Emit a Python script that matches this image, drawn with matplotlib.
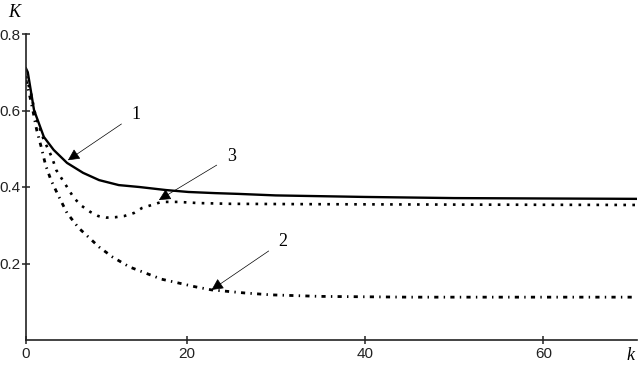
import matplotlib
matplotlib.use("Agg")
import matplotlib.pyplot as plt

# curve 1 (solid)
k1 = [2, 2.2, 2.9, 4.0, 5.1, 6.6, 8.4, 10.2, 12.4, 14.7, 17.7, 20.2, 23.2, 25.8, 30, 40, 50, 60, 70.5]
K1 = [0.71, 0.70, 0.601, 0.531, 0.497, 0.463, 0.437, 0.418, 0.405, 0.40, 0.392, 0.387, 0.384, 0.382,
      0.378, 0.374, 0.371, 0.370, 0.369]

# curve 3 (dotted)
k3 = [2, 2.6, 3.1, 4.0, 4.9, 5.4, 6.6, 7.3, 8.1, 9.2, 10.1, 11, 12, 13, 14.1, 15, 16.1, 17.2,
      19.1, 21.3, 25, 35, 50, 70.5]
K3 = [0.69, 0.64, 0.583, 0.523, 0.478, 0.444, 0.40, 0.374, 0.353, 0.335, 0.324, 0.320, 0.321, 0.324,
      0.332, 0.345, 0.353, 0.361, 0.361, 0.358, 0.356, 0.355, 0.354, 0.353]

# curve 2 (dash-dot)
k2 = [2, 2.6, 3.2, 3.7, 4.2, 4.8, 5.7, 6.6, 7.9, 10.2, 11.7, 13.6, 15.4, 17.2, 19.1, 21, 22.8,
      26.5, 29.5, 35, 45, 70.5]
K2 = [0.68, 0.62, 0.549, 0.505, 0.457, 0.418, 0.374, 0.332, 0.293, 0.243, 0.217, 0.191, 0.175,
      0.159, 0.149, 0.139, 0.131, 0.123, 0.118, 0.114, 0.112, 0.112]

x_ticks = [2, 20, 40, 60]
x_labels = ["0", "20", "40", "60"]
y_ticks = [0.2, 0.4, 0.6, 0.8]
y_labels = ["0.2", "0.4", "0.6", "0.8"]

# (label, text pos, arrow tip)
notes = [("1", (14.3, 0.59), (6.7, 0.47)),
         ("3", (25.0, 0.48), (16.9, 0.366)),
         ("2", (30.8, 0.258), (22.8, 0.131))]

fig = plt.figure(figsize=(6.41, 3.70), dpi=100)
ax = fig.add_axes([26 / 641, 30 / 370, 611 / 641, 306 / 370])

ax.plot(k1, K1, color="black", lw=1.7)
ax.plot(k3, K3, color="black", lw=1.9, linestyle=(0, (1, 2.4)))
ax.plot(k2, K2, color="black", lw=2.0, linestyle=(0, (1.5, 1.9, 0.5, 1.9)))

for txt, tpos, tip in notes:
    ax.annotate(txt, xy=tip, xytext=tpos, fontsize=13, family="Liberation Serif",
                ha="center", va="center",
                arrowprops=dict(arrowstyle="-|>", color="black", lw=0.5,
                                mutation_scale=18, shrinkA=6, shrinkB=0))

ax.set_xlim(2, 70.5)
ax.set_ylim(0, 0.8)
ax.set_xticks(x_ticks)
ax.set_xticklabels(x_labels)
ax.set_yticks(y_ticks)
ax.set_yticklabels(y_labels)

for s in ["top", "right"]:
    ax.spines[s].set_visible(False)
for s in ["left", "bottom"]:
    ax.spines[s].set_linewidth(1.2)
    ax.spines[s].set_color("#222222")

ax.tick_params(direction="inout", length=6, width=1.1, pad=1, labelsize=11, colors="#222222")
ax.tick_params(axis="x", pad=2)
for lab in ax.get_xticklabels() + ax.get_yticklabels():
    lab.set_family("Liberation Sans")

ax.text(-0.02, 1.07, "K", transform=ax.transAxes, fontsize=13, style="italic",
        family="Liberation Serif", ha="center", va="center")
ax.text(0.989, -0.05, "k", transform=ax.transAxes, fontsize=13, style="italic",
        family="Liberation Serif", ha="center", va="center")

fig.savefig("out.png", dpi=100)
